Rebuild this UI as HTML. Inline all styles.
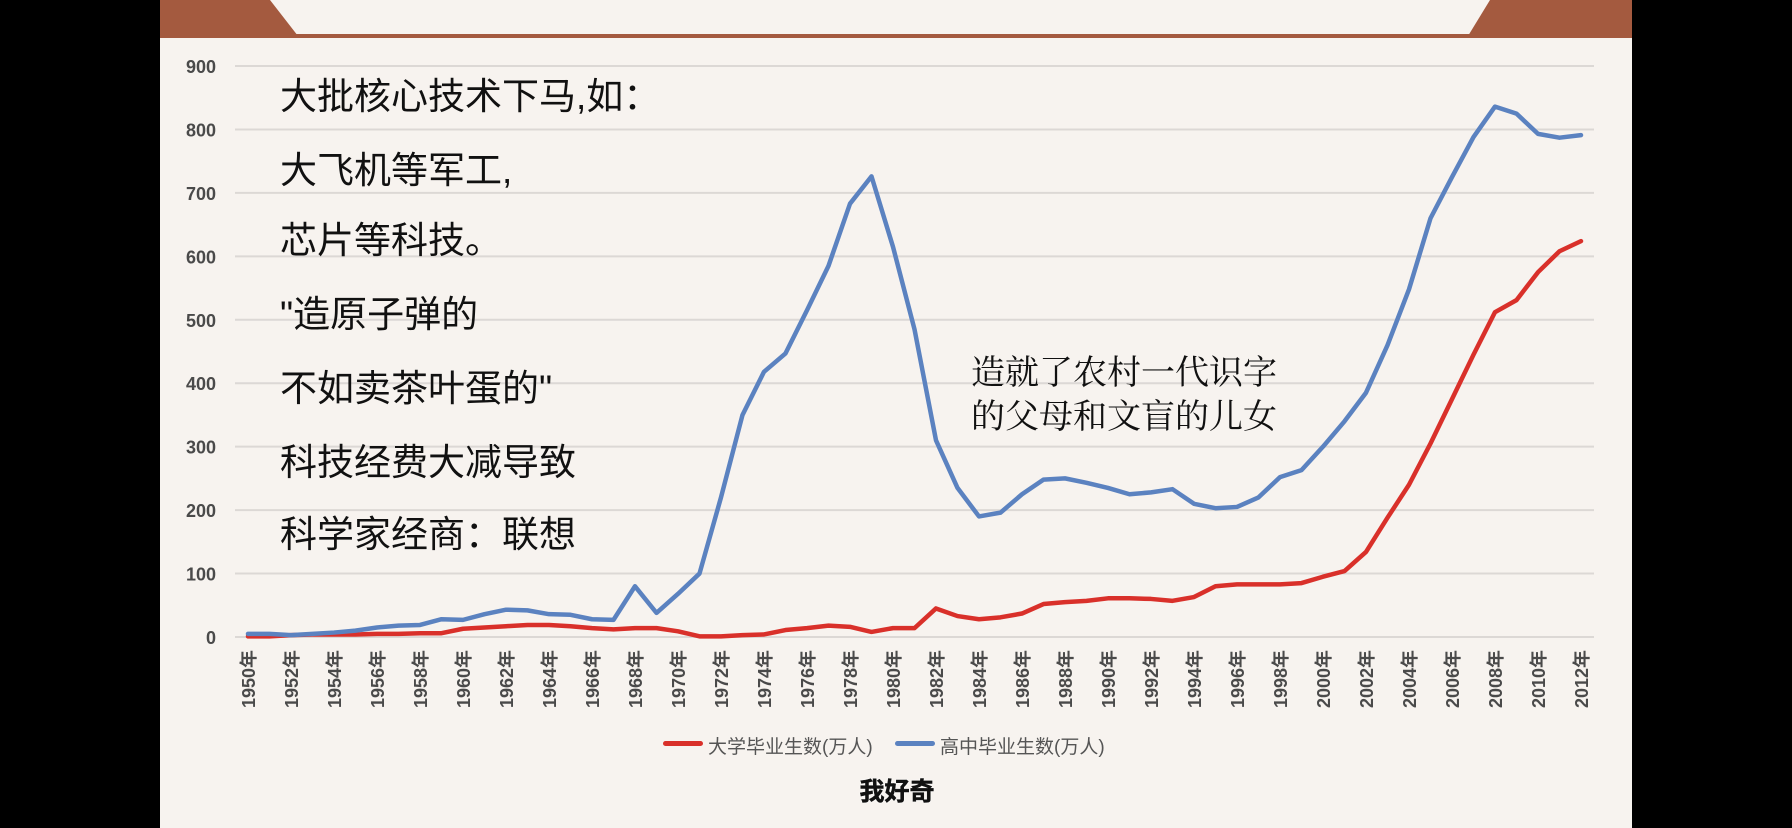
<!DOCTYPE html>
<html><head><meta charset="utf-8">
<style>
html,body{margin:0;padding:0;background:#000;}
#wrap{position:relative;width:1792px;height:828px;overflow:hidden;background:#000;font-family:"Liberation Sans","Noto Sans CJK SC",sans-serif;}
#slide{position:absolute;left:160px;top:0;width:1472px;height:828px;background:#f7f3ef;}
.ltxt{position:absolute;left:280px;font-size:37px;color:#111;font-family:"Liberation Sans","Noto Sans CJK SC",sans-serif;white-space:nowrap;line-height:1;}
.rtxt{position:absolute;left:971px;font-size:34px;color:#111;font-family:"Liberation Serif","Noto Serif CJK SC",serif;white-space:nowrap;line-height:1;}
</style></head>
<body>
<div id="wrap">
<div id="slide"></div>
<svg id="chart" width="1792" height="828" style="position:absolute;left:0;top:0">
  <polygon points="160,0 270,0 298,36 160,36" fill="#a45a3f"/>
  <polygon points="1490,0 1632,0 1632,36 1468,36" fill="#a45a3f"/>
  <rect x="160" y="34" width="1472" height="4" fill="#a45a3f"/>
  <g id="grid"></g><g id="ylab"></g><g id="xlab"></g><g id="series"></g>
</svg>
<div class="ltxt" style="top:78px">大批核心技术下马,如：</div>
<div class="ltxt" style="top:152px">大飞机等军工,</div>
<div class="ltxt" style="top:222px">芯片等科技。</div>
<div class="ltxt" style="top:296px">"造原子弹的</div>
<div class="ltxt" style="top:370px">不如卖茶叶蛋的"</div>
<div class="ltxt" style="top:444px">科技经费大减导致</div>
<div class="ltxt" style="top:516px">科学家经商：联想</div>
<div class="rtxt" style="top:357px">造就了农村一代识字</div>
<div class="rtxt" style="top:401px">的父母和文盲的儿女</div>
<div style="position:absolute;left:663px;top:741px;width:40px;height:5px;border-radius:3px;background:#d9302a"></div>
<div style="position:absolute;left:708px;top:732px;font-size:19px;color:#555;white-space:nowrap">大学毕业生数(万人)</div>
<div style="position:absolute;left:895px;top:741px;width:40px;height:5px;border-radius:3px;background:#5b82c0"></div>
<div style="position:absolute;left:940px;top:732px;font-size:19px;color:#555;white-space:nowrap">高中毕业生数(万人)</div>
<div style="position:absolute;left:847px;top:772px;width:100px;text-align:center;font-size:25px;font-weight:bold;color:#111;-webkit-text-stroke:0.5px #111;text-shadow:0 0 2px #fff,0 0 2px #fff;">我好奇</div>
</div>
<script>
const years=[];for(let y=1950;y<=2012;y++)years.push(y);
const highSchool=[5,5,3,5,7,10,15,18,19,28,27,36,43,42,36,35,28,27,80,38,68,100,220,350,418,447,515,585,683,726,615,485,310,235,190,196,225,248,250,243,235,225,228,233,210,203,205,220,252,263,300,340,385,460,548,660,725,788,836,825,793,787,791];
const college=[1,1,3,4,4,4,5,5,6,6,13,15,17,19,19,17,14,12,14,14,9,1,1,3,4,11,14,18,16,8,14,14,45,33,28,31,37,52,55,57,61,61,60,57,63,80,83,83,83,85,95,104,134,188,240,305,375,445,512,531,575,608,624];
const yTicks=[0,100,200,300,400,500,600,700,800,900];
const NS="http://www.w3.org/2000/svg";
const x=i=>248+(1581-248)*(i/(years.length-1));
const y=v=>637-v*(637-66)/900;
const g=document.getElementById('grid'),yl=document.getElementById('ylab'),xl=document.getElementById('xlab'),se=document.getElementById('series');
yTicks.forEach(t=>{
  const l=document.createElementNS(NS,'line');
  l.setAttribute('x1',235);l.setAttribute('x2',1594);l.setAttribute('y1',y(t));l.setAttribute('y2',y(t));
  l.setAttribute('stroke','#dcd8d5');l.setAttribute('stroke-width','2');
  
  
  g.appendChild(l);
  const tx=document.createElementNS(NS,'text');
  tx.setAttribute('x',216);tx.setAttribute('y',y(t)+7);tx.setAttribute('text-anchor','end');
  tx.setAttribute('font-family','"Liberation Sans Narrow","Liberation Sans",sans-serif');tx.setAttribute('font-weight','bold');tx.setAttribute('font-size','18');tx.setAttribute('fill','#4a4a4a');
  tx.textContent=t;
  
  
  yl.appendChild(tx);
});
years.forEach((yr,i)=>{
  if(yr%2)return;
  const tx=document.createElementNS(NS,'text');
  const cx=x(i)+7,cy=650;
  tx.setAttribute('transform','translate('+cx+','+cy+') rotate(-90)');
  tx.setAttribute('text-anchor','end');
  tx.setAttribute('font-family','"Liberation Sans Narrow","Liberation Sans","Noto Sans CJK SC",sans-serif');tx.setAttribute('font-weight','bold');tx.setAttribute('font-size','18');tx.setAttribute('fill','#4a4a4a');
  tx.textContent=yr+'年';
  
  
  xl.appendChild(tx);
});
function line(data,color,name){
  const p=document.createElementNS(NS,'polyline');
  p.setAttribute('points',data.map((v,i)=>x(i)+','+y(v)).join(' '));
  p.setAttribute('fill','none');p.setAttribute('stroke',color);p.setAttribute('stroke-width','4.5');p.setAttribute('stroke-linejoin','round');p.setAttribute('stroke-linecap','round');
  
  
  se.appendChild(p);
}
line(college,'#d9302a','college-graduates-line');
line(highSchool,'#5b82c0','highschool-graduates-line');
</script>
</body></html>
